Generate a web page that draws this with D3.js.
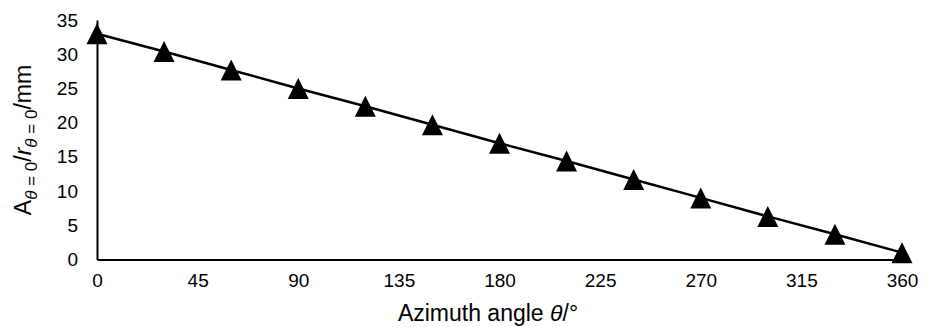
<!DOCTYPE html>
<html>
<head>
<meta charset="utf-8">
<script src="https://cdn.jsdelivr.net/npm/d3@7"></script>
<style>
  html, body { margin: 0; padding: 0; background: #fff; }
  svg { display: block; font-family: "Liberation Sans", Arial, sans-serif; }
</style>
</head>
<body>
<svg id="chart" width="932" height="327"></svg>
<script>
// Data
const angles = [0, 30, 60, 90, 120, 150, 180, 210, 240, 270, 300, 330, 360];
const ratios = [33.0, 30.4, 27.7, 25.0, 22.4, 19.7, 17.0, 14.4, 11.7, 9.0, 6.3, 3.7, 1.0];
const xTicks = [0, 45, 90, 135, 180, 225, 270, 315, 360];
const yTicks = [0, 5, 10, 15, 20, 25, 30, 35];
const xTitle = "Azimuth angle ";

const svg = d3.select("#chart");
const plotL = 97, plotR = 902, plotT = 20, plotB = 259.5;

const x = d3.scaleLinear().domain([0, 360]).range([plotL, plotR]);
const y = d3.scaleLinear().domain([0, 35]).range([plotB, plotT]);

// X axis
const gx = svg.append("g").attr("transform", `translate(0,${plotB})`)
  .call(d3.axisBottom(x).tickValues(xTicks).tickSize(0).tickSizeOuter(0).tickPadding(14));
gx.select(".domain").attr("stroke", "#000").attr("stroke-width", 2);
gx.selectAll("text").attr("font-size", 19).attr("fill", "#000")
  .attr("font-family", "Liberation Sans, Arial, sans-serif");

// Y axis
const gy = svg.append("g").attr("transform", `translate(${plotL},0)`)
  .call(d3.axisLeft(y).tickValues(yTicks).tickSize(0).tickSizeOuter(0).tickPadding(19));
gy.select(".domain").attr("stroke", "#000").attr("stroke-width", 2);
gy.selectAll("text").attr("font-size", 19).attr("fill", "#000")
  .attr("font-family", "Liberation Sans, Arial, sans-serif");

// Line
const pts = angles.map((a, i) => [a, ratios[i]]);
svg.append("path")
  .datum(pts)
  .attr("fill", "none")
  .attr("stroke", "#000")
  .attr("stroke-width", 2.5)
  .attr("d", d3.line().x(d => x(d[0])).y(d => y(d[1])));

// Triangle markers
const tw = 10.5, th = 10.5;
svg.append("g").selectAll("path")
  .data(pts)
  .join("path")
  .attr("transform", d => `translate(${x(d[0])},${y(d[1])})`)
  .attr("d", `M0,${-th}L${tw},${th}L${-tw},${th}Z`)
  .attr("fill", "#000");

// X title
const xt = svg.append("text")
  .attr("x", 488).attr("y", 321)
  .attr("text-anchor", "middle")
  .attr("font-size", 23)
  .attr("fill", "#000");
xt.append("tspan").text(xTitle);
xt.append("tspan").attr("font-style", "italic").text("θ");
xt.append("tspan").text("/°");

// Y title
const yt = svg.append("text")
  .attr("transform", "translate(31,140) rotate(-90)")
  .attr("text-anchor", "middle")
  .attr("font-size", 23)
  .attr("fill", "#000");
yt.append("tspan").text("A");
yt.append("tspan").attr("font-size", 17).attr("dy", 6).attr("font-style", "italic").text("θ");
yt.append("tspan").attr("font-size", 17).text(" = 0");
yt.append("tspan").attr("dy", -6).text("/");
yt.append("tspan").attr("font-style", "italic").text("r");
yt.append("tspan").attr("font-size", 17).attr("dy", 6).attr("font-style", "italic").text("θ");
yt.append("tspan").attr("font-size", 17).text(" = 0");
yt.append("tspan").attr("dy", -6).text("/mm");
</script>
</body>
</html>
